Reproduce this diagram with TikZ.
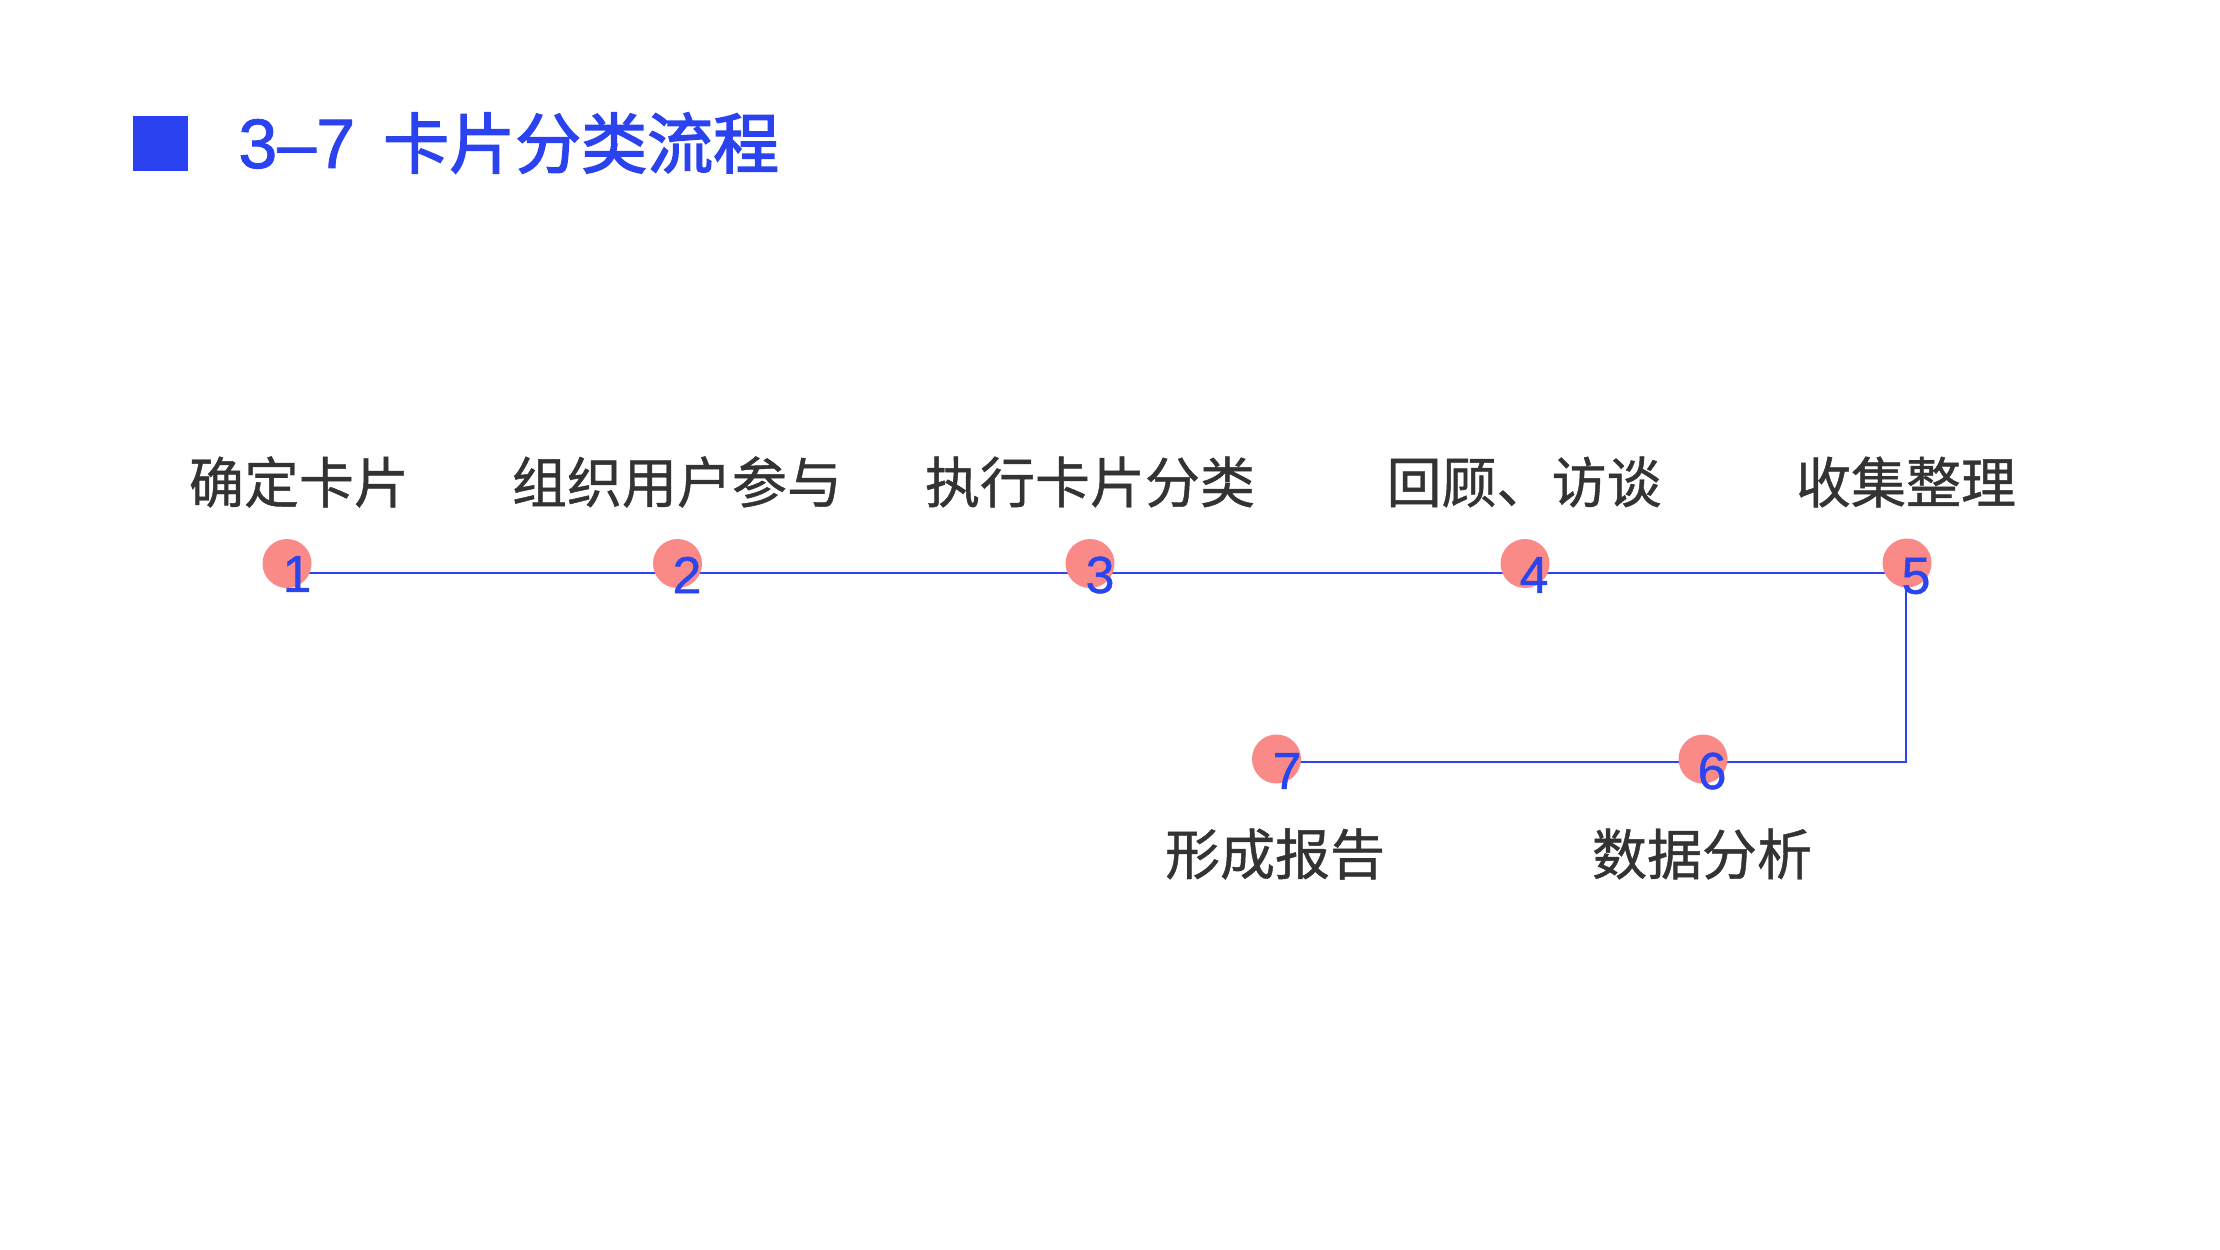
\documentclass[tikz,border=0pt]{standalone}
\usepackage{fontspec}
\setmainfont{Liberation Sans}
\newfontfamily\numfont[FakeBold=0.8]{Liberation Sans}
\newfontfamily\titlelatin[FakeBold=1.2]{Liberation Sans}
\newfontfamily\cjk[FakeBold=0.8]{Noto Sans CJK SC}
\newfontfamily\cjktitle[FakeBold=2.2]{Noto Sans CJK SC}
\definecolor{titleblue}{HTML}{2B42F0}
\definecolor{lineblue}{HTML}{2B45EE}
\definecolor{dotpink}{HTML}{F98A88}
\definecolor{labelgray}{HTML}{333333}
\tikzset{
  dot/.style={circle, fill=dotpink, draw=none, minimum size=24.5pt, inner sep=0pt},
  num/.style={inner sep=0pt, text=lineblue, font=\numfont\fontsize{26}{26}\selectfont},
  steplabel/.style={inner sep=0pt, text=labelgray, font=\cjk\fontsize{27.5}{27.5}\selectfont},
  flow/.style={draw=lineblue, line width=1.35pt}
}
\begin{document}
\begin{tikzpicture}[x=0.5pt,y=-0.5pt]
\useasboundingbox (0,0) rectangle (2220,1249);
\fill[white] (0,0) rectangle (2220,1249);
% title
\node[fill=titleblue, minimum size=27.5pt, inner sep=0pt] (sq) at (160.5,143.5) {};
\node[anchor=west, inner sep=0pt, text=titleblue] (title) at (238,143)
  {\titlelatin\fontsize{35}{35}\selectfont 3–7\hspace{0.4em}{\cjktitle\fontsize{33}{33}\selectfont 卡片分类流程}};
% line points
\coordinate (p1) at (287,573);
\coordinate (p2) at (677,573);
\coordinate (p3) at (1090,573);
\coordinate (p4) at (1525,573);
\coordinate (p5) at (1906,573);
\coordinate (p6) at (1703,762);
\coordinate (p7) at (1276,762);
\draw[flow] (p1) -- (p2) -- (p3) -- (p4) -- (p5) -- (p5 |- p6) -- (p6) -- (p7);
% dots
\node[dot] (c1) at (287,563.5) {};
\node[dot] (c2) at (677.5,563.5) {};
\node[dot] (c3) at (1090,563.5) {};
\node[dot] (c4) at (1525,563.5) {};
\node[dot] (c5) at (1907,563) {};
\node[dot] (c6) at (1703,759) {};
\node[dot] (c7) at (1276.5,759) {};
% numbers
\node[num] (n1) at (297,574) {1};
\node[num] (n2) at (687,575) {2};
\node[num] (n3) at (1100,575) {3};
\node[num] (n4) at (1534,575) {4};
\node[num] (n5) at (1916,576) {5};
\node[num] (n6) at (1712,771) {6};
\node[num] (n7) at (1287,771) {7};
% labels
\node[steplabel] (t1) at (299,482) {确定卡片};
\node[steplabel] (t2) at (677,482) {组织用户参与};
\node[steplabel] (t3) at (1090,482) {执行卡片分类};
\node[steplabel] (t4) at (1524,482) {回顾、访谈};
\node[steplabel] (t5) at (1906,482) {收集整理};
\node[steplabel] (t6) at (1702,854) {数据分析};
\node[steplabel] (t7) at (1275,854) {形成报告};
\end{tikzpicture}
\end{document}
